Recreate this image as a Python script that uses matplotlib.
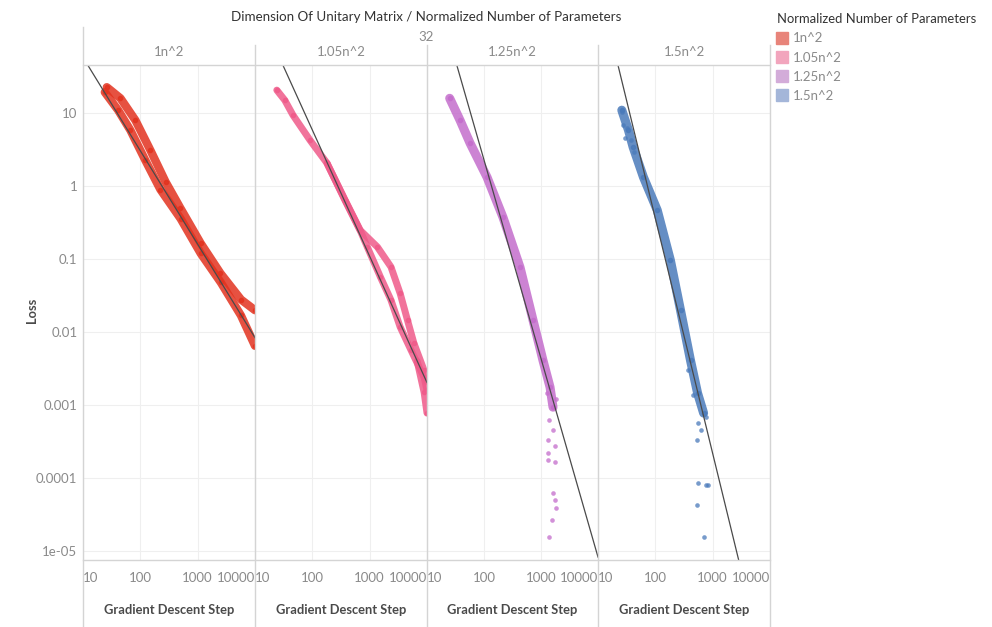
import matplotlib.pyplot as plt
import numpy as np
from matplotlib.lines import Line2D

plt.rcParams['font.family'] = ['Lato', 'DejaVu Sans']

# ---- data ----
PARAMS = ["1n^2", "1.05n^2", "1.25n^2", "1.5n^2"]
COLORS = ["#e2331f", "#ef5b8a", "#c46dcc", "#4a7aba"]
LEGEND_COLORS = ["#e8847a", "#f2a5bd", "#d3acd9", "#a4b6d9"]
DIMENSION = "32"

STEP_TICKS = [10, 100, 1000, 10000]
STEP_LABELS = ["10", "100", "1000", "10000"]
LOSS_TICKS = [1e-5, 1e-4, 1e-3, 1e-2, 1e-1, 1, 10]
LOSS_LABELS = ["1e-05", "0.0001", "0.001", "0.01", "0.1", "1", "10"]

# trend lines: log10(loss) = intercept + slope * log10(step)
TREND_SLOPE = [-1.28, -1.73, -2.72, -3.22]
TREND_INTERCEPT = [3.045, 4.23, 5.80, 6.00]

# 1n^2
p1_upper_step = [26, 45, 82, 150, 275, 500, 1130, 2500, 5700, 10000]
p1_upper_loss = [22.7, 16.0, 8.0, 3.1, 1.15, 0.5, 0.165, 0.064, 0.028, 0.02]
p1_lower_step = [24, 41, 67, 122, 224, 503, 1130, 2535, 5680, 10000]
p1_lower_loss = [19.4, 11.0, 5.85, 2.27, 0.9, 0.36, 0.12, 0.048, 0.017, 0.0065]

# 1.05n^2
p2_a_step = [24, 33, 46, 91, 180, 372, 680, 910, 1540, 2350, 3400, 5250, 8900, 10000]
p2_a_loss = [20.7, 15.1, 9.4, 4.27, 2.07, 0.643, 0.25, 0.147, 0.057, 0.0276, 0.0118, 0.0057, 0.0024, 0.0016]
p2_b_step = [180, 372, 680, 1365, 2350, 3400, 4570, 5900, 8900, 10000]
p2_b_loss = [2.07, 0.643, 0.25, 0.147, 0.0785, 0.034, 0.0146, 0.0071, 0.003, 0.0021]
p2_c_step = [6740, 8900, 10000]
p2_c_loss = [0.004, 0.0015, 0.00078]

# 1.25n^2
p3_step = [25, 38, 57, 113, 215, 428, 725, 1084, 1440, 1625]
p3_loss = [16.0, 8.0, 3.88, 1.33, 0.376, 0.0777, 0.0146, 0.0041, 0.00177, 0.00094]
p3_tail_step = [1274, 1835, 1380, 1625, 1320, 1760, 1320, 1320, 1760, 1625, 1760, 1835, 1560, 1380]
p3_tail_loss = [0.00146, 0.0012, 0.00063, 0.00046, 0.00033, 0.00028, 0.00022, 0.000177,
                0.000166, 6.2e-5, 5.0e-5, 3.9e-5, 2.66e-5, 1.56e-5]

# 1.5n^2
p4_step = [26, 34, 41, 62, 108, 183, 275, 411, 546, 695]
p4_loss = [11.0, 5.85, 3.42, 1.33, 0.469, 0.097, 0.02, 0.0041, 0.00146, 0.00078]
p4_tail_step = [26, 27.5, 32, 30, 38, 42, 364, 451, 546, 615, 525, 754, 546, 754, 817, 525, 695]
p4_tail_loss = [10.4, 6.85, 6.2, 4.54, 4.3, 2.92, 0.003, 0.0014, 0.00057, 0.000455, 0.00033,
                0.00069, 8.5e-5, 8.0e-5, 8.2e-5, 4.3e-5, 1.56e-5]

TRACES = [
    [(p1_upper_step, p1_upper_loss), (p1_lower_step, p1_lower_loss)],
    [(p2_a_step, p2_a_loss), (p2_b_step, p2_b_loss), (p2_c_step, p2_c_loss)],
    [(p3_step, p3_loss)],
    [(p4_step, p4_loss)],
]
TAILS = [None, None, (p3_tail_step, p3_tail_loss), (p4_tail_step, p4_tail_loss)]
TRACE_WIDTH = [6, 5, 6.5, 6.5]

# ---- layout ----
W, H = 992, 627
fig = plt.figure(figsize=(W / 100, H / 100), dpi=100)

def fx(px):
    return px / W

def fy(py):
    return 1 - py / H

edges = [83, 255, 427, 598, 770]
top, bottom = 65, 560
grid_c = "#efefef"
line_c = "#d4d4d4"
fs = 9.5

for i in range(4):
    ax = fig.add_axes([fx(edges[i]), fy(bottom), fx(edges[i + 1] - edges[i]), fy(top) - fy(bottom)])
    ax.set_xscale("log")
    ax.set_yscale("log")
    ax.set_xlim(10, 10000)
    ax.set_ylim(10 ** -5.12, 10 ** 1.66)
    for s in ax.spines.values():
        s.set_visible(False)
    ax.set_xticks(STEP_TICKS)
    ax.set_xticks([], minor=True)
    ax.set_yticks(LOSS_TICKS)
    ax.set_yticks([], minor=True)
    ax.grid(True, color=grid_c, lw=0.8)
    ax.tick_params(length=0, colors="#8a8a8a", labelsize=fs)
    ax.tick_params(axis="x", pad=9)
    ax.tick_params(axis="y", pad=4)
    ax.set_xticklabels(STEP_LABELS)
    tl = ax.get_xticklabels()
    tl[0].set_ha("left")
    tl[-1].set_ha("right")
    if i == 0:
        ax.set_yticklabels(LOSS_LABELS)
    else:
        ax.set_yticklabels([])
    ax.set_axisbelow(True)

    for steps, loss in TRACES[i]:
        ax.plot(steps, loss, color=COLORS[i], lw=TRACE_WIDTH[i], alpha=0.85,
                solid_capstyle="round", solid_joinstyle="round", marker="o", ms=3, zorder=3)
    if TAILS[i] is not None:
        ax.scatter(TAILS[i][0], TAILS[i][1], s=11, color=COLORS[i], alpha=0.75, lw=0, zorder=3)

    xs = np.array([10.0, 10000.0])
    ys = 10 ** (TREND_INTERCEPT[i] + TREND_SLOPE[i] * np.log10(xs))
    ax.plot(xs, ys, color="#4a4a4a", lw=0.9, zorder=4)

    cx = (edges[i] + edges[i + 1]) / 2
    fig.text(fx(cx), fy(52), PARAMS[i], ha="center", va="center", color="#8a8a8a", fontsize=fs)
    fig.text(fx(cx), fy(610), "Gradient Descent Step", ha="center", va="center",
             color="#4a4a4a", fontsize=9.3, fontweight="bold")

# frame lines
fig.add_artist(Line2D([fx(83), fx(770)], [fy(top), fy(top)], color=line_c, lw=1))
fig.add_artist(Line2D([fx(83), fx(770)], [fy(bottom), fy(bottom)], color=line_c, lw=1))
fig.add_artist(Line2D([fx(83), fx(83)], [fy(27), 0], color=line_c, lw=1))
for e in edges[1:]:
    fig.add_artist(Line2D([fx(e), fx(e)], [fy(45), 0], color=line_c, lw=1))

fig.text(fx(426.5), fy(17), "Dimension Of Unitary Matrix / Normalized Number of Parameters",
         ha="center", va="center", color="#333333", fontsize=9.6)
fig.text(fx(426.5), fy(37), DIMENSION, ha="center", va="center", color="#8a8a8a", fontsize=fs)
fig.text(fx(32), fy(310), "Loss", ha="center", va="center", rotation=90,
         color="#4a4a4a", fontsize=9.3, fontweight="bold")

handles = [Line2D([], [], ls="none", marker="s", ms=8, color=c) for c in LEGEND_COLORS]
leg = fig.legend(handles, PARAMS, title="Normalized Number of Parameters", loc="upper left",
                 bbox_to_anchor=(fx(777), fy(13)), frameon=False, alignment="left",
                 handlelength=0.8, handletextpad=0.4, labelspacing=0.55, borderaxespad=0,
                 borderpad=0, fontsize=fs, title_fontsize=9.4)
for t in leg.get_texts():
    t.set_color("#8a8a8a")
leg.get_title().set_color("#333333")

fig.savefig("out.png", dpi=100)
